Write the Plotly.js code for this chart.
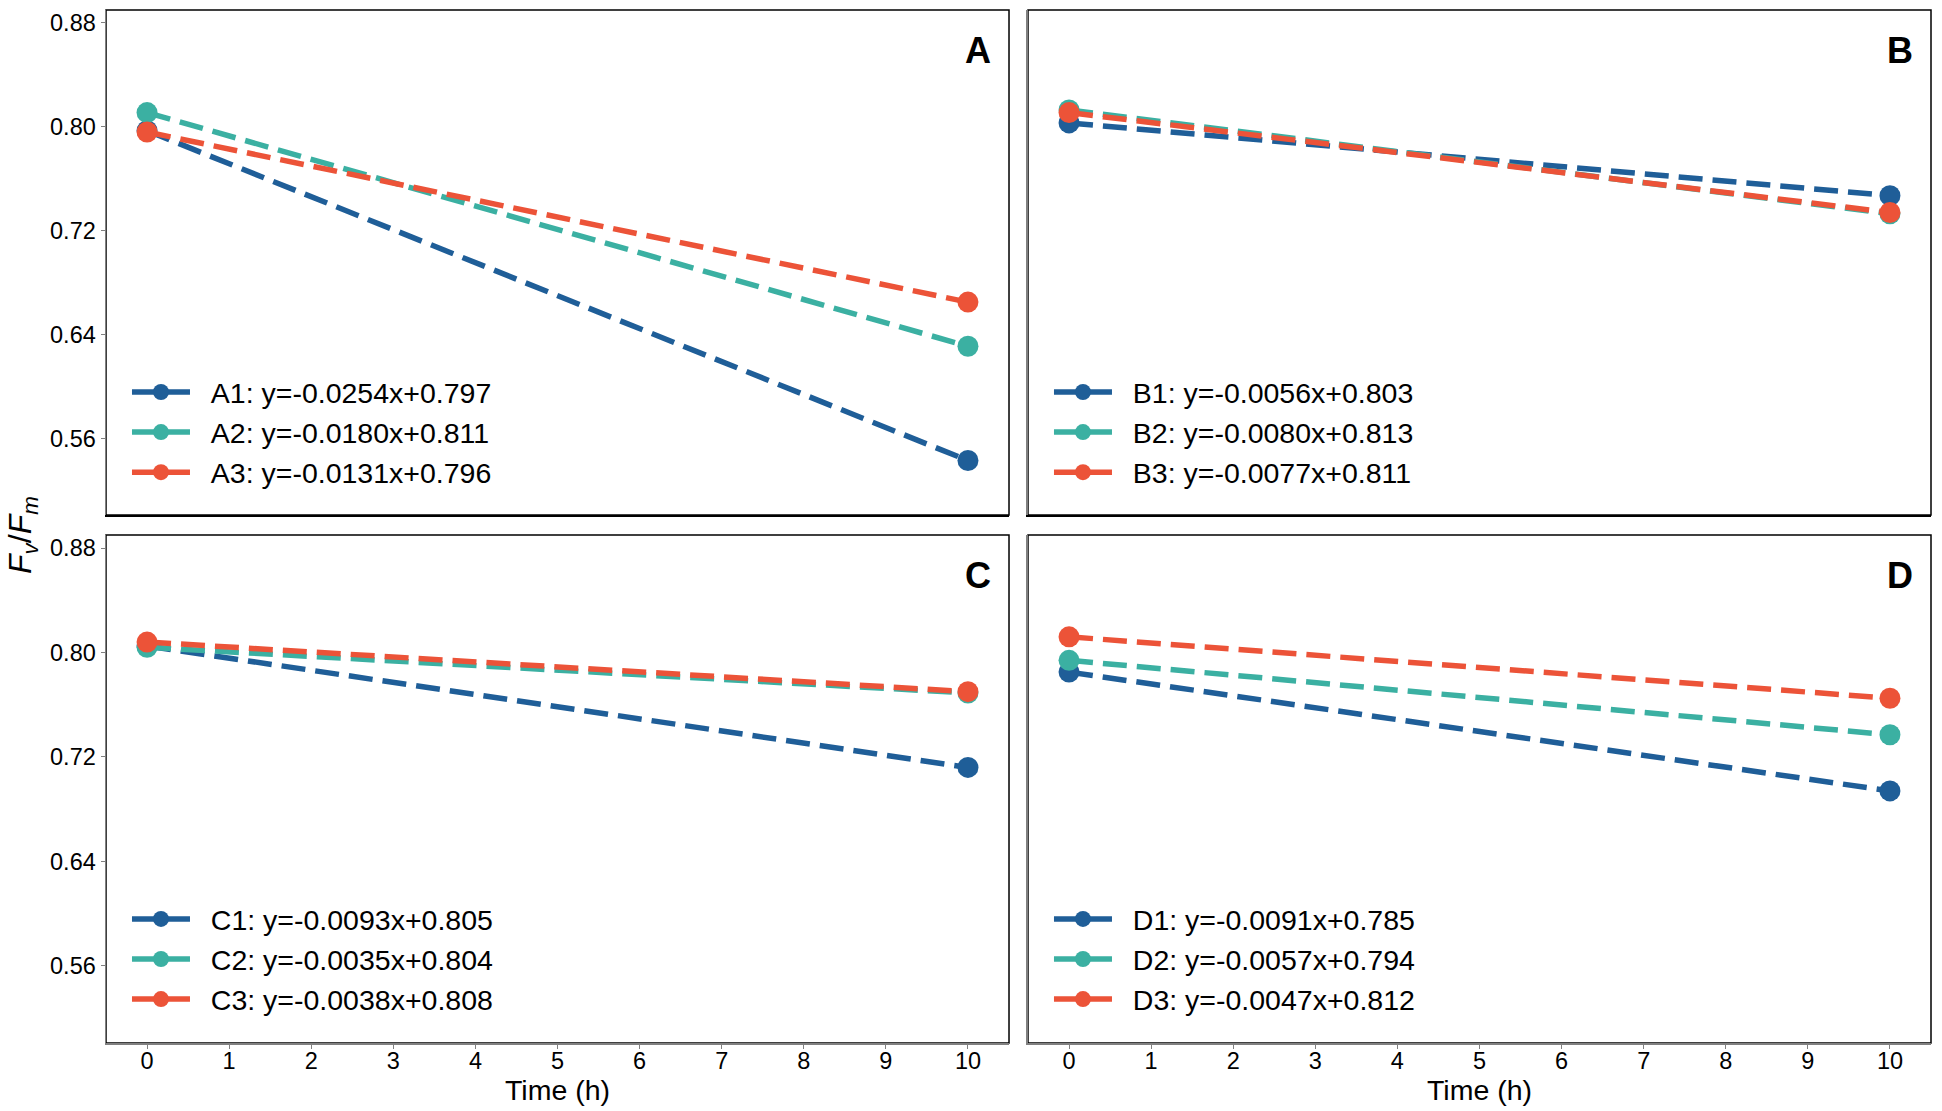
<!DOCTYPE html>
<html>
<head>
<meta charset="utf-8">
<script src="https://cdn.plot.ly/plotly-3.0.1.min.js"></script>
<style>html,body{margin:0;padding:0;background:#fff;}#chart{width:1942px;height:1111px;}</style>
</head>
<body>
<div id="chart"></div>
<script>
// Data
var timeH = [0, 10];
var panelLetters = ['A', 'B', 'C', 'D'];
var seriesNames = [
  ['A1', 'A2', 'A3'],
  ['B1', 'B2', 'B3'],
  ['C1', 'C2', 'C3'],
  ['D1', 'D2', 'D3']
];
var equations = [
  ['y=-0.0254x+0.797', 'y=-0.0180x+0.811', 'y=-0.0131x+0.796'],
  ['y=-0.0056x+0.803', 'y=-0.0080x+0.813', 'y=-0.0077x+0.811'],
  ['y=-0.0093x+0.805', 'y=-0.0035x+0.804', 'y=-0.0038x+0.808'],
  ['y=-0.0091x+0.785', 'y=-0.0057x+0.794', 'y=-0.0047x+0.812']
];
var A1 = [0.797, 0.543], A2 = [0.811, 0.631], A3 = [0.796, 0.665];
var B1 = [0.803, 0.747], B2 = [0.813, 0.733], B3 = [0.811, 0.734];
var C1 = [0.805, 0.712], C2 = [0.804, 0.769], C3 = [0.808, 0.770];
var D1 = [0.785, 0.694], D2 = [0.794, 0.737], D3 = [0.812, 0.765];
var panelValues = [[A1, A2, A3], [B1, B2, B3], [C1, C2, C3], [D1, D2, D3]];
var yTicks = [0.56, 0.64, 0.72, 0.80, 0.88];
var yTickText = ['0.56', '0.64', '0.72', '0.80', '0.88'];
var xTicks = [0, 1, 2, 3, 4, 5, 6, 7, 8, 9, 10];

var colors = ['#1f5e98', '#3bb0a2', '#ec5338'];
var FONT = 'Arial, "Liberation Sans", sans-serif';
var GREY = '#808080';
var NB = '\u00A0\u00A0';

var traces = [];
panelValues.forEach(function (vals, p) {
  vals.forEach(function (v, s) {
    traces.push({
      type: 'scatter', mode: 'lines+markers',
      x: timeH, y: v,
      xaxis: 'x' + (p === 0 ? '' : p + 1),
      yaxis: 'y' + (p === 0 ? '' : p + 1),
      name: NB + seriesNames[p][s] + ': ' + equations[p][s],
      legend: 'legend' + (p === 0 ? '' : p + 1),
      line: {color: colors[s], width: 5.5, dash: '24px,10px'},
      marker: {color: colors[s], size: 21, line: {width: 0}},
      cliponaxis: false
    });
  });
});

var xDom = [[0, 0.4948], [0.5052, 1]];
var yDom = [[0.5111, 1], [0, 0.4918]];

var layout = {
  width: 1942, height: 1111,
  margin: {l: 106, r: 11, t: 10, b: 68},
  paper_bgcolor: '#fff', plot_bgcolor: '#fff',
  font: {family: FONT, color: '#000'},
  showlegend: true,
  shapes: [], annotations: []
};

function legendCfg(x, y) {
  return {
    x: x, y: y, xanchor: 'left', yanchor: 'top', xref: 'paper', yref: 'paper',
    bgcolor: 'rgba(0,0,0,0)', borderwidth: 0,
    font: {family: FONT, size: 28.5, color: '#000'},
    itemwidth: 58, tracegroupgap: 0
  };
}

for (var p = 0; p < 4; p++) {
  var col = p % 2, row = Math.floor(p / 2);
  var sfx = p === 0 ? '' : String(p + 1);
  var bottom = row === 1;
  var left = col === 0;
  var xa = {
    domain: xDom[col], anchor: 'y' + sfx,
    range: [-0.5, 10.5], tickvals: xTicks, ticktext: xTicks.map(String),
    showticklabels: bottom, ticks: bottom ? 'outside' : '', ticklen: 4, tickcolor: GREY, tickwidth: 1,
    ticklabelstandoff: -8,
    showline: true, linecolor: bottom ? GREY : '#000', linewidth: 1.5,
    showgrid: false, zeroline: false,
    tickfont: {family: FONT, size: 23.5, color: '#000'}
  };
  if (bottom) xa.title = {text: 'Time (h)', font: {family: FONT, size: 28.5, color: '#000'}, standoff: 4};
  layout['xaxis' + sfx] = xa;
  layout['yaxis' + sfx] = {
    domain: yDom[row], anchor: 'x' + sfx,
    range: [0.501, 0.89], tickvals: yTicks, ticktext: yTickText,
    showticklabels: left, ticks: left ? 'outside' : '', ticklen: 4, tickcolor: GREY, tickwidth: 1,
    showline: true, linecolor: GREY, linewidth: 1.5,
    showgrid: false, zeroline: false,
    tickfont: {family: FONT, size: 23.5, color: '#000'}
  };
  layout.shapes.push({
    type: 'rect', xref: 'x' + sfx + ' domain', yref: 'y' + sfx + ' domain',
    x0: 0, x1: 1, y0: 0, y1: 1, line: {color: '#000', width: 1.5}, layer: 'below'
  });
  layout.annotations.push({
    xref: 'x' + sfx + ' domain', yref: 'y' + sfx + ' domain',
    x: 0.9655, y: 0.92, xanchor: 'center', yanchor: 'middle', showarrow: false,
    text: '<b>' + panelLetters[p] + '</b>', font: {family: FONT, size: 36, color: '#000'}
  });
  var lx = xDom[col][0] + 0.0115;
  var ly = row === 0 ? 0.6544 : 0.1443;
  layout['legend' + sfx] = legendCfg(lx, ly);
}

layout.annotations.push({
  xref: 'paper', yref: 'paper', x: -0.0455, y: 0.4918,
  xanchor: 'center', yanchor: 'middle', showarrow: false, textangle: -90,
  text: '<i>F</i><sub><i>v</i></sub>/<i>F</i><sub><i>m</i></sub>',
  font: {family: FONT, size: 32, color: '#000'}
});

Plotly.newPlot('chart', traces, layout, {staticPlot: true, displayModeBar: false});
</script>
</body>
</html>
